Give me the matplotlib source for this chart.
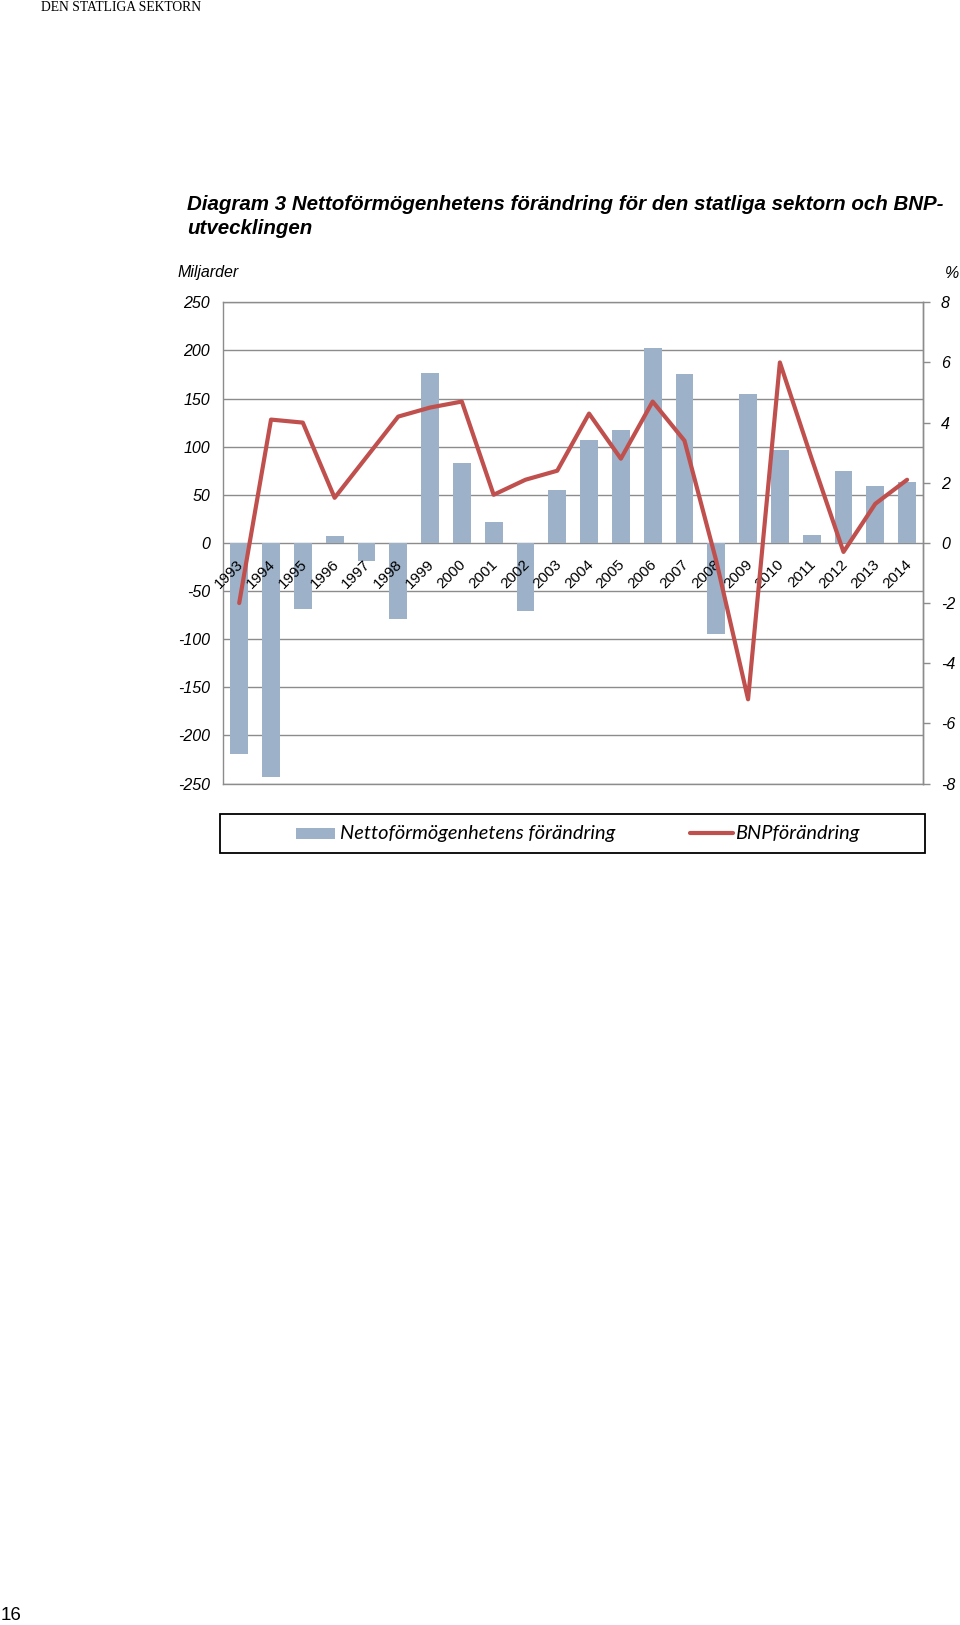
import numpy as np
import matplotlib
matplotlib.use("Agg")
import matplotlib.pyplot as plt
from matplotlib.patches import Rectangle
from matplotlib.lines import Line2D

years = [str(y) for y in range(1993, 2015)]
net_change = [-219, -243, -69, 7, -19, -79, 177, 83, 22, -71, 55,
              107, 117, 203, 175, -95, 155, 97, 8, 75, 59, 63]
gdp_change = [-2.0, 4.1, 4.0, 1.5, 2.85, 4.2, 4.5, 4.7, 1.6, 2.1, 2.4,
              4.3, 2.8, 4.7, 3.4, -0.6, -5.2, 6.0, 2.8, -0.3, 1.3, 2.1]
left_ticks = list(range(-250, 251, 50))
right_ticks = list(range(-8, 9, 2))

bar_color = "#9DB1C8"
line_color = "#C0504D"
grid_color = "#8C8C8C"

W, H = 960, 1625
fig = plt.figure(figsize=(W / 100, H / 100), dpi=100)
fig.patch.set_facecolor("white")

L, R, T, B = 223.3, 923.0, 302.3, 783.5
ax = fig.add_axes([L / W, 1 - B / H, (R - L) / W, (B - T) / H])

sans = ["Liberation Sans", "DejaVu Sans"]
x = np.arange(len(years))
ax.bar(x, net_change, width=0.56, color=bar_color, zorder=2)
ax.set_xlim(-0.5, len(years) - 0.5)
ax.set_ylim(-250, 250)
ax.set_yticks(left_ticks)
ax.set_yticklabels([str(v) for v in left_ticks], fontstyle="italic",
                   family=sans, fontsize=11.5)
ax.set_xticks([])
ax.yaxis.grid(True, color=grid_color, linewidth=1.0)
ax.set_axisbelow(True)
ax.tick_params(axis="y", length=0, pad=9.5)
for s in ("top", "bottom", "left", "right"):
    ax.spines[s].set_color(grid_color)
    ax.spines[s].set_linewidth(1.0)

for i, yr in enumerate(years):
    ax.annotate(yr, xy=(i, 0), xytext=(2, -19), textcoords="offset pixels",
                rotation=45, ha="right", va="center", rotation_mode="anchor",
                fontsize=11, family=sans, color="black")

ax2 = ax.twinx()
ax2.plot(x, gdp_change, color=line_color, linewidth=3.0,
         solid_joinstyle="round", solid_capstyle="round", zorder=3)
ax2.set_ylim(-8, 8)
ax2.set_yticks(right_ticks)
ax2.set_yticklabels([str(v) for v in right_ticks], fontstyle="italic",
                    family=sans, fontsize=11.5)
ax2.tick_params(axis="y", length=5, width=1.0, color=grid_color,
                direction="out", pad=8)
for s in ("top", "bottom", "left"):
    ax2.spines[s].set_visible(False)
ax2.spines["right"].set_color(grid_color)
ax2.spines["right"].set_linewidth(1.0)

# Axis unit labels
fig.text(178 / W, 1 - 272.7 / H, "Miljarder", fontstyle="italic", family=sans,
         fontsize=11.5, ha="left", va="center")
fig.text(959 / W, 1 - 273 / H, "%", fontstyle="italic", family=sans,
         fontsize=11.5, ha="right", va="center")

# Title
tfam = ["Liberation Sans Narrow", "Liberation Sans", "DejaVu Sans"]
fig.text(187 / W, 1 - 205 / H,
         "Diagram 3 Nettoförmögenhetens förändring för den statliga sektorn och BNP-",
         fontweight="bold", fontstyle="italic", family=tfam, fontsize=14.8,
         ha="left", va="center")
fig.text(187 / W, 1 - 228 / H, "utvecklingen",
         fontweight="bold", fontstyle="italic", family=tfam, fontsize=14.8,
         ha="left", va="center")

# Header / page number
fig.text(41 / W, 1 - 7.5 / H, "DEN STATLIGA SEKTORN",
         family=["Liberation Serif", "DejaVu Serif"], fontsize=9.8,
         ha="left", va="center")
fig.text(1 / W, 1 - 1616 / H, "16", family=sans, fontsize=13.5,
         ha="left", va="center")

# Legend (manual)
lfam = ["Lato", "DejaVu Sans"]
box_top, box_bot = 814.0, 852.5
box = Rectangle((220 / W, 1 - box_bot / H), (925 - 220) / W, (box_bot - box_top) / H,
                transform=fig.transFigure, facecolor="white",
                edgecolor="black", linewidth=1.3)
fig.add_artist(box)
ly = 833.0
fig.add_artist(Rectangle((295.5 / W, 1 - (ly + 5.5) / H), 39.5 / W, 11 / H,
                         transform=fig.transFigure, facecolor=bar_color,
                         edgecolor="none"))
fig.text(340 / W, 1 - ly / H, "Nettoförmögenhetens förändring",
         fontstyle="italic", family=lfam, fontsize=14.4, ha="left", va="center")
fig.add_artist(Line2D([690 / W, 733 / W], [1 - ly / H, 1 - ly / H],
                      transform=fig.transFigure, color=line_color,
                      linewidth=3.0, solid_capstyle="round"))
fig.text(735 / W, 1 - ly / H, "BNPförändring",
         fontstyle="italic", family=lfam, fontsize=14.4, ha="left", va="center")

fig.savefig("out.png", dpi=100, facecolor="white")
